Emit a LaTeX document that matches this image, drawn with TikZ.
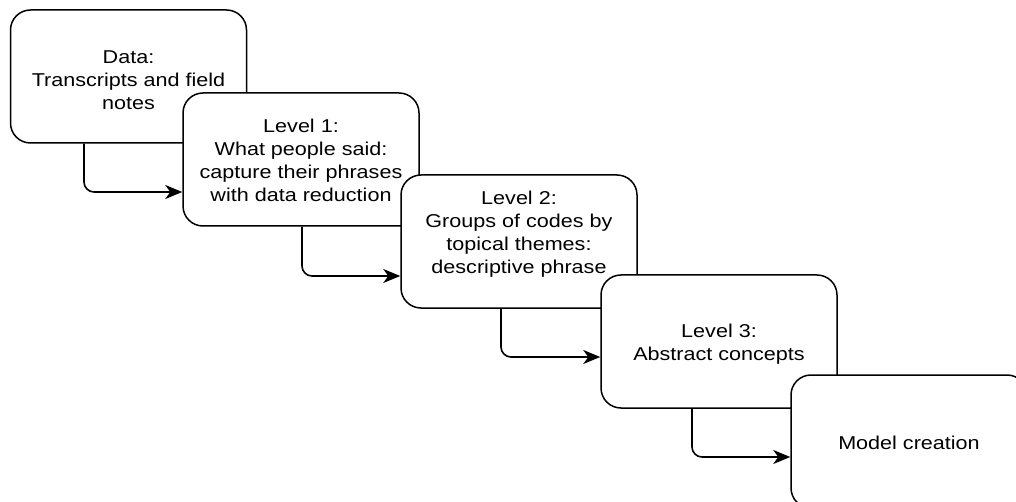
\documentclass[tikz,border=0pt]{standalone}
\usepackage{fontspec}
\setmainfont{Liberation Sans}[FakeStretch=1.16]
\usetikzlibrary{arrows.meta}
\begin{document}
\begin{tikzpicture}[x=1pt,y=1pt,
  box/.style={draw=black, line width=1.5pt, fill=white, rounded corners=20pt,
    minimum width=236pt, minimum height=133pt, inner sep=0pt},
  txt/.style={align=center, inner sep=0pt, font=\fontsize{18.6}{23}\selectfont},
  arr/.style={line width=1.6pt, rounded corners=10pt, -{Stealth[length=17pt,width=14pt,inset=5pt]}}]
\useasboundingbox (0,0) rectangle (1016,-502);
\clip (0,0) rectangle (1016,-502);
\node[box] (b1) at (128.5,-76.5) {};
\node[txt] (t1) at ([yshift=-4pt]b1.center) {Data:\\Transcripts and field\\notes};
\node[box] (b2) at (301,-159.5) {};
\node[txt] (t2) at ([yshift=-1pt]b2.center) {Level 1:\\What people said:\\capture their phrases\\with data reduction};
\node[box] (b3) at (519,-241.5) {};
\node[txt] (t3) at ([yshift=7pt]b3.center) {Level 2:\\Groups of codes by\\topical themes:\\descriptive phrase};
\node[box] (b4) at (719,-341.5) {};
\node[txt] (t4) at ([yshift=-3pt]b4.center) {Level 3:\\Abstract concepts};
\node[box] (b5) at (909,-441.5) {};
\node[txt] (t5) at ([yshift=-1pt]b5.center) {Model creation};
\draw[arr] ([xshift=-44.5pt]b1.south) |- ([yshift=-32.5pt]b2.west);
\draw[arr] ([xshift=1pt]b2.south) |- ([yshift=-34.5pt]b3.west);
\draw[arr] ([xshift=-18pt]b3.south) |- ([yshift=-15.5pt]b4.west);
\draw[arr] ([xshift=-27pt]b4.south) |- ([yshift=-15.5pt]b5.west);
\end{tikzpicture}
\end{document}
